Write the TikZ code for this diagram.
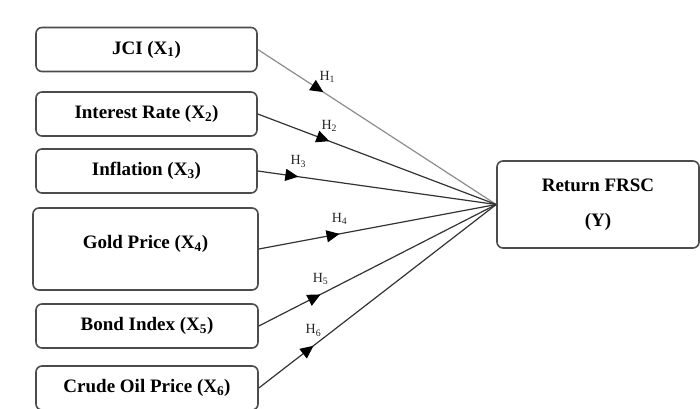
\documentclass[tikz,border=0pt]{standalone}
\usepackage{fontspec}
\setmainfont{Liberation Serif}
\usetikzlibrary{arrows.meta, decorations.markings}
\tikzset{
  varbox/.style={
    draw=black!70, line width=1.6pt, rounded corners=6pt, align=center,
    font=\fontsize{19}{23}\selectfont\bfseries, fill=white,
    minimum width=221pt, minimum height=44pt
  },
  pathline/.style={
    draw=black!80, line width=1.2pt
  },
  hmark/.style={
    postaction={decorate},
    decoration={markings,
      mark=at position #1 with {\arrow{Triangle[length=13pt,width=12pt,color=black]}}}
  },
  hlabel/.style={
    font=\fontsize{14}{16}\selectfont, text=black!85, inner sep=1pt
  },
}

\begin{document}
\begin{tikzpicture}[x=1pt, y=-1pt]
  \useasboundingbox (0,0) rectangle (700,408);

  % ── Independent variables ──
  \node[varbox] (jci) at (146.5,49.5) {JCI (X\textsubscript{1})};
  \node[varbox] (rate) at (146.5,114) {Interest Rate (X\textsubscript{2})};
  \node[varbox] (infl) at (146.5,171) {Inflation (X\textsubscript{3})};
  \node[varbox, minimum width=225pt, minimum height=82pt, text depth=14pt]
    (gold) at (145.5,249) {Gold Price (X\textsubscript{4})};
  \node[varbox, minimum width=222pt] (bond) at (147,326) {Bond Index (X\textsubscript{5})};
  \node[varbox, minimum width=222pt] (crude) at (147,388) {Crude Oil Price (X\textsubscript{6})};

  % ── Dependent variable ──
  \node[varbox, minimum width=202pt, minimum height=87pt]
    (ret) at (598,204.5) {Return FRSC\\[12pt](Y)};

  % ── Hypotheses ──
  \draw[pathline, draw=black!45, hmark=0.275] (jci.east) --
    node[hlabel, pos=0.275, above=8pt, xshift=4pt] {H\textsubscript{1}} (ret.west);
  \draw[pathline, hmark=0.30] (rate.east) --
    node[hlabel, pos=0.30, above=8pt] {H\textsubscript{2}} (ret.west);
  \draw[pathline, hmark=0.17] (infl.east) --
    node[hlabel, pos=0.17, above=8pt] {H\textsubscript{3}} (ret.west);
  \draw[pathline, hmark=0.34] (gold.east) --
    node[hlabel, pos=0.34, above=8pt] {H\textsubscript{4}} (ret.west);
  \draw[pathline, hmark=0.26] (bond.east) --
    node[hlabel, pos=0.26, above=8pt] {H\textsubscript{5}} (ret.west);
  \draw[pathline, hmark=0.23] (crude.east) --
    node[hlabel, pos=0.23, above=8pt] {H\textsubscript{6}} (ret.west);
\end{tikzpicture}
\end{document}
